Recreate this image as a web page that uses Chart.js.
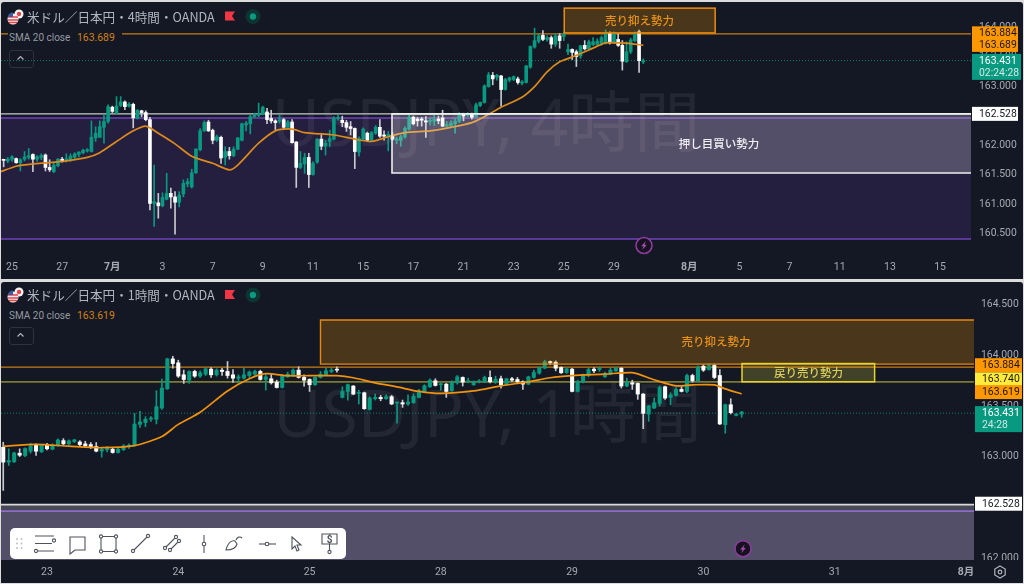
<!DOCTYPE html>
<html lang="ja">
<head>
<meta charset="UTF-8">
<title>USDJPY 4時間 / 1時間</title>
<script src="https://cdn.jsdelivr.net/npm/chart.js"></script>
<style>
  html, body { margin: 0; padding: 0; }
  body { width: 1024px; height: 584px; background: #dcdcdc; position: relative; overflow: hidden;
         font-family: "Noto Sans CJK JP", "Noto Sans", sans-serif; }
  .panel { position: absolute; left: 1px; width: 1022px; background: #131824; border-radius: 3px; }
  #panel4h { top: 2px; height: 277px; }
  #panel1h { top: 282px; height: 301px; }
  canvas { display: block; }
  .title { position: absolute; left: 27px; font-size: 12.6px; color: #b2b5be; white-space: nowrap; line-height: 16px; }
  .legend { position: absolute; left: 8px; height: 14px; padding: 0 3px 0 1px; background: #131824; color: #9598a1;
            font: 10px/14px Roboto, sans-serif; white-space: nowrap; width: 110px; }
  .legend b { font-weight: 400; position: absolute; left: 69px; color: #d08015; font-size: 10.4px; }
  .collapse { position: absolute; left: 9px; width: 23px; height: 16px; border: 1px solid #2e323e; border-radius: 3px;
              color: #b2b5be; }
  svg.abs { position: absolute; left: 0; top: 0; pointer-events: none; }
  #toolbar { position: absolute; left: 10px; top: 528px; width: 336px; height: 31px; background: #fff; border-radius: 5px; }
</style>
</head>
<body>
<div class="panel" id="panel4h"><canvas id="chart4h" width="1022" height="277"></canvas></div>
<div class="panel" id="panel1h"><canvas id="chart1h" width="1022" height="301"></canvas></div>

<div class="title" style="top:9px">米ドル／日本円・4時間・OANDA</div>
<div class="legend" style="top:31px">SMA 20 close<b>163.689</b></div>
<div class="collapse" style="top:50px"></div>
<div class="title" style="top:287px">米ドル／日本円・1時間・OANDA</div>
<div class="legend" style="top:309px">SMA 20 close<b>163.619</b></div>
<div class="collapse" style="top:327px"></div>
<div id="toolbar"></div>

<svg class="abs" width="1024" height="584" viewBox="0 0 1024 584">
  <defs>
    <g id="flag">
      <circle cx="6" cy="-4" r="4.5" fill="#f5f5f5"/><circle cx="6" cy="-4" r="2.2" fill="#e8434a"/>
      <circle cx="0" cy="1" r="5.5" fill="#f0f0f0"/>
      <path d="M-5 -1h10M-5 2h10M-4 4.5h8" stroke="#e8434a" stroke-width="1.3"/>
      <path d="M-5 -1a5 5 0 0 1 5 -4.5v4.5z" fill="#3b5aa8"/>
    </g>
    <g id="mark">
      <path d="M-5 -5h10l-3 4.5l3 4.5h-10z" fill="#f23645"/>
      <circle cx="23" cy="0" r="7.5" fill="#0d3431"/><circle cx="23" cy="0" r="3.2" fill="#089981"/>
    </g>
    <g id="bolt">
      <circle r="8" fill="#16121f" stroke="#8e3b9e" stroke-width="1.6"/>
      <path d="M1.8 -4.5L-2.8 0.8h2.4L-1.8 4.5L2.8 -0.8h-2.4z" fill="#a64bb8"/>
    </g>
    <path id="chev" d="M-3 1.5L0 -1.5L3 1.5" fill="none" stroke="#b2b5be" stroke-width="1.2"/>
  </defs>
  <use href="#flag" x="13" y="18"/><use href="#mark" x="230" y="16.5"/>
  <use href="#flag" x="13" y="296"/><use href="#mark" x="230" y="295"/>
  <use href="#chev" x="20.5" y="58"/><use href="#chev" x="20.5" y="335"/>
  <use href="#bolt" x="644" y="245.5"/><use href="#bolt" x="743" y="548.7"/>
  <!-- settings -->
  <path d="M1000 566l5.2 3v6l-5.2 3l-5.2 -3v-6z" fill="none" stroke="#b2b5be" stroke-width="1.2"/>
  <circle cx="1000" cy="572" r="1.8" fill="none" stroke="#b2b5be" stroke-width="1.2"/>
  <!-- drawing toolbar -->
  <g fill="#bbb"><circle cx="17" cy="539" r=".9"/><circle cx="21.5" cy="539" r=".9"/><circle cx="17" cy="543.5" r=".9"/><circle cx="21.5" cy="543.5" r=".9"/><circle cx="17" cy="548" r=".9"/><circle cx="21.5" cy="548" r=".9"/></g>
  <g fill="#fff" stroke="#50535e" stroke-width="1.1">
    <path d="M35 536h19M35 543.5h17M38 551h16" fill="none"/><circle cx="54" cy="540.5" r="1.6"/><circle cx="36" cy="551" r="1.6"/>
    <path d="M70 537h15v13h-10l-5 4z" fill="none"/>
    <path d="M102 536.5h13M102 551.5h13M101 538v12M116 538v12" fill="none"/><circle cx="101" cy="536.5" r="1.6"/><circle cx="116" cy="536.5" r="1.6"/><circle cx="101" cy="551.5" r="1.6"/><circle cx="116" cy="551.5" r="1.6"/>
    <path d="M134 550L147 537" fill="none"/><circle cx="133" cy="551" r="1.6"/><circle cx="148" cy="536" r="1.6"/>
    <path d="M165 548l11 -11M169 551l11 -11" fill="none"/><circle cx="165" cy="548" r="1.6"/><circle cx="176" cy="537" r="1.6"/><circle cx="170" cy="550" r="1.6"/><circle cx="179" cy="541" r="1.6"/>
    <path d="M204 535v18" fill="none"/><circle cx="204" cy="544" r="1.8"/>
    <path d="M226 550c2 -8 6 -10 9 -9l2 3c-1 4 -5 6 -11 6zM236 540c1 -3 4 -4 6 -2" fill="none"/>
    <path d="M259 544h17" fill="none"/><circle cx="267" cy="544" r="1.8"/>
    <path d="M292 537l9 8h-4l2 5l-2 1l-2 -5l-3 3z" fill="none"/>
    <path d="M322 534h15v10h-15zM329.5 544v6" fill="none"/><circle cx="329.5" cy="552" r="1.6"/>
  </g>
  <text x="329.5" y="543" font-size="10" font-family="Roboto" font-weight="700" text-anchor="middle" fill="#50535e">$</text>
</svg>

<script>
// 4 hour candles, left to right
const opens4h = [
  161.75,161.73,161.76,161.77,161.70,161.76,161.79,161.84,161.76,161.79,
  161.83,161.62,161.55,161.65,161.76,161.75,161.75,161.79,161.84,161.87,
  161.90,161.89,162.12,162.13,162.30,162.40,162.64,162.54,162.67,162.73,
  162.66,162.69,162.45,162.58,162.55,162.43,161.01,161.02,160.97,161.08,
  161.18,161.12,161.03,161.17,161.34,161.29,161.53,161.92,162.24,162.39,
  162.25,162.08,162.13,161.79,161.89,161.82,161.93,162.08,162.34,162.36,
  162.48,162.50,162.53,162.56,162.45,162.41,162.40,162.43,162.30,162.39,
  162.05,161.62,161.68,161.79,161.50,161.71,162.10,161.98,162.06,162.10,
  162.45,162.42,162.38,162.31,162.28,161.88,162.10,162.20,162.08,162.20,
  162.30,162.17,162.14,162.15,162.08,162.08,162.14,162.27,162.47,162.44,
  162.44,162.41,162.40,162.40,162.44,162.46,162.32,162.33,162.36,162.40,
  162.53,162.50,162.53,162.48,162.67,162.72,162.99,163.18,163.15,163.17,
  162.94,163.10,163.11,163.12,163.05,163.06,163.32,163.66,163.76,163.86,
  163.79,163.82,163.71,163.85,163.84,163.58,163.62,163.58,163.51,163.69,
  163.63,163.70,163.71,163.72,163.73,163.89,163.73,163.79,163.69,163.41,
  163.58,163.77,163.92,163.41
];
const closes4h = [
  161.74,161.76,161.80,161.70,161.75,161.80,161.82,161.76,161.80,161.82,
  161.62,161.58,161.66,161.76,161.73,161.76,161.81,161.85,161.88,161.91,
  161.92,162.13,162.20,162.31,162.40,162.65,162.57,162.66,162.73,162.65,
  162.69,162.46,162.59,162.55,162.43,161.01,161.04,160.97,161.11,161.18,
  161.12,161.03,161.15,161.35,161.38,161.53,161.93,162.24,162.38,162.24,
  162.08,162.14,161.78,161.89,161.82,161.93,162.12,162.36,162.37,162.48,
  162.51,162.53,162.64,162.43,162.41,162.38,162.43,162.30,162.39,162.04,
  161.62,161.69,161.79,161.50,161.69,162.10,161.98,162.03,162.11,162.45,
  162.47,162.38,162.30,162.28,161.89,162.11,162.27,162.08,162.21,162.30,
  162.15,162.15,162.18,162.10,162.10,162.14,162.28,162.47,162.36,162.41,
  162.42,162.39,162.42,162.44,162.41,162.32,162.34,162.37,162.40,162.53,
  162.49,162.53,162.47,162.68,162.72,163.00,163.19,163.12,163.18,162.94,
  163.11,163.14,163.16,163.06,163.07,163.34,163.67,163.77,163.85,163.79,
  163.82,163.71,163.85,163.77,163.89,163.62,163.57,163.50,163.68,163.63,
  163.75,163.75,163.76,163.82,163.89,163.73,163.88,163.69,163.42,163.58,
  163.78,163.89,163.43,163.43
];
const highs4h = [
  161.76,161.79,161.82,161.78,161.77,161.89,161.94,161.85,161.82,161.85,
  161.85,161.75,161.69,161.77,161.79,161.85,161.85,161.87,161.89,161.93,
  161.94,162.41,162.31,162.41,162.51,162.68,162.66,162.82,162.82,162.75,
  162.72,162.71,162.60,162.59,162.58,162.47,161.66,161.18,161.19,161.52,
  161.27,161.21,161.21,161.41,161.43,161.59,161.94,162.28,162.41,162.42,
  162.27,162.17,162.15,161.97,161.96,161.97,162.13,162.37,162.40,162.51,
  162.54,162.71,162.66,162.62,162.59,162.43,162.51,162.45,162.42,162.43,
  162.06,161.89,161.86,161.86,161.72,162.11,162.20,162.08,162.25,162.48,
  162.51,162.49,162.42,162.40,162.29,162.14,162.29,162.22,162.23,162.33,
  162.43,162.24,162.23,162.21,162.13,162.17,162.31,162.53,162.49,162.47,
  162.47,162.48,162.45,162.51,162.49,162.59,162.40,162.41,162.45,162.55,
  162.54,162.55,162.54,162.71,162.73,163.02,163.23,163.23,163.20,163.18,
  163.13,163.15,163.17,163.15,163.09,163.35,163.68,163.98,163.88,163.94,
  163.85,163.85,163.89,163.89,163.92,163.71,163.63,163.61,163.69,163.77,
  163.78,163.82,163.80,163.85,163.95,163.92,163.92,163.89,163.77,163.75,
  163.81,163.92,163.95,163.46
];
const lows4h = [
  161.63,161.70,161.72,161.69,161.56,161.73,161.76,161.55,161.72,161.75,
  161.56,161.55,161.53,161.63,161.71,161.71,161.72,161.77,161.80,161.85,
  161.88,161.88,162.06,162.13,162.03,162.37,162.55,162.53,162.65,162.60,
  162.64,162.29,162.44,162.48,162.41,160.90,160.62,160.76,160.95,161.07,
  160.93,160.49,160.95,161.12,161.29,161.27,161.52,161.90,162.23,162.23,
  162.02,162.06,161.69,161.66,161.76,161.80,161.92,162.07,162.24,162.19,
  162.47,162.48,162.51,162.36,162.37,162.25,162.37,162.27,162.28,162.03,
  161.28,161.60,161.52,161.28,161.49,161.69,161.92,161.83,161.97,162.08,
  162.42,162.31,162.23,162.17,161.60,161.81,162.08,162.06,162.06,162.18,
  162.13,162.08,161.90,162.08,162.02,161.98,162.11,162.25,162.34,162.32,
  162.32,162.13,162.34,162.33,162.36,162.31,162.30,162.30,162.20,162.38,
  162.41,162.48,162.44,162.47,162.65,162.71,162.98,163.02,163.10,162.66,
  162.93,163.07,163.09,163.03,163.02,163.05,163.30,163.64,163.73,163.77,
  163.76,163.64,163.67,163.64,163.77,163.53,163.45,163.33,163.47,163.61,
  163.61,163.69,163.69,163.69,163.71,163.71,163.72,163.67,163.27,163.40,
  163.55,163.75,163.23,163.38
];
const smaBars4h = [-3,1,5,9,13,18,21,25,29,32,35,39,43,48,52,54,59,63,67,70,77,82,86,90,94,100,105,110,113,117,122,125,128,131,134,138,142,145,148,151];
const smaValues4h = [161.54,161.64,161.68,161.70,161.73,161.79,161.87,162.06,162.24,162.32,162.20,162.02,161.81,161.69,161.58,161.66,162.03,162.24,162.27,162.21,162.17,162.10,162.06,162.14,162.21,162.24,162.30,162.38,162.48,162.64,162.81,162.99,163.24,163.41,163.49,163.61,163.73,163.73,163.72,163.69];
const timeTicks4h = [0,12,24,36,48,60,72,84,96,108,120,132,144,162,174,186,198,210,222];
const timeLabels4h = ['25','27','7月','3','7','9','11','15','17','21','23','25','29','8月','5','7','11','13','15'];
const priceTicks4h = [164,163.5,163,162.5,162,161.5,161,160.5];

// 1 hour candles, left to right
const opens1h = [
  163.095,162.948,162.951,163.036,163.013,163.056,163.115,163.049,163.121,163.075,
  163.111,163.160,163.128,163.151,163.147,163.128,163.121,163.102,163.056,163.069,
  163.075,163.043,163.072,163.102,163.111,163.321,163.337,163.373,163.370,163.481,
  163.671,163.966,163.927,163.809,163.756,163.842,163.796,163.815,163.865,163.809,
  163.855,163.842,163.809,163.776,163.776,163.802,163.815,163.842,163.763,163.770,
  163.737,163.684,163.789,163.809,163.855,163.783,163.763,163.711,163.783,163.809,
  163.842,163.861,163.586,163.645,163.698,163.626,163.632,163.468,163.573,163.586,
  163.573,163.593,163.531,163.534,163.521,163.534,163.586,163.645,163.691,163.750,
  163.711,163.717,163.652,163.730,163.783,163.740,163.711,163.740,163.740,163.783,
  163.740,163.770,163.711,163.770,163.763,163.740,163.717,163.783,163.825,163.874,
  163.940,163.933,163.881,163.832,163.865,163.645,163.737,163.802,163.865,163.861,
  163.789,163.815,163.848,163.874,163.698,163.730,163.724,163.619,163.422,163.481,
  163.527,163.691,163.586,163.606,163.665,163.645,163.802,163.750,163.894,163.861,
  163.901,163.802,163.318,163.514,163.409,163.422
];
const closes1h = [
  162.948,162.964,163.039,163.016,163.082,163.108,163.056,163.115,163.079,163.115,
  163.167,163.128,163.157,163.167,163.121,163.108,163.095,163.056,163.075,163.082,
  163.043,163.075,163.108,163.115,163.324,163.344,163.370,163.380,163.495,163.678,
  163.966,163.920,163.796,163.763,163.842,163.796,163.829,163.868,163.809,163.855,
  163.842,163.802,163.776,163.789,163.809,163.835,163.842,163.763,163.789,163.730,
  163.684,163.796,163.815,163.855,163.783,163.756,163.711,163.783,163.815,163.848,
  163.855,163.855,163.645,163.711,163.619,163.632,163.475,163.580,163.586,163.573,
  163.593,163.521,163.537,163.521,163.540,163.596,163.652,163.701,163.756,163.704,
  163.717,163.645,163.734,163.789,163.737,163.750,163.737,163.750,163.783,163.740,
  163.766,163.711,163.770,163.756,163.740,163.717,163.789,163.832,163.881,163.940,
  163.927,163.874,163.829,163.868,163.645,163.743,163.809,163.861,163.848,163.874,
  163.822,163.855,163.874,163.698,163.734,163.717,163.619,163.429,163.501,163.534,
  163.684,163.580,163.612,163.665,163.645,163.802,163.750,163.888,163.855,163.901,
  163.783,163.324,163.514,163.436,163.422,163.442
];
const highs1h = [
  163.144,163.079,163.046,163.079,163.088,163.134,163.128,163.121,163.134,163.128,
  163.177,163.180,163.167,163.174,163.160,163.154,163.141,163.141,163.095,163.102,
  163.088,163.095,163.121,163.128,163.429,163.449,163.396,163.396,163.652,163.766,
  163.973,163.992,163.953,163.855,163.848,163.855,163.848,163.874,163.881,163.868,
  163.874,163.940,163.861,163.809,163.874,163.848,163.855,163.855,163.809,163.822,
  163.756,163.809,163.835,163.868,163.888,163.809,163.770,163.789,163.842,163.874,
  163.874,163.888,163.691,163.717,163.704,163.658,163.639,163.593,163.619,163.606,
  163.612,163.606,163.540,163.560,163.612,163.619,163.665,163.711,163.770,163.770,
  163.730,163.724,163.750,163.802,163.789,163.776,163.750,163.763,163.796,163.848,
  163.796,163.796,163.776,163.783,163.783,163.750,163.796,163.855,163.888,163.953,
  163.946,163.946,163.888,163.881,163.874,163.756,163.815,163.874,163.881,163.888,
  163.835,163.874,163.888,163.881,163.776,163.756,163.730,163.625,163.508,163.580,
  163.698,163.698,163.632,163.684,163.691,163.815,163.815,163.897,163.907,163.914,
  163.914,163.861,163.521,163.573,163.429,163.449
];
const lows1h = [
  162.669,162.915,162.944,163.003,163.003,163.036,163.013,163.043,163.069,163.069,
  163.102,163.115,163.121,163.141,163.108,163.095,163.082,163.049,162.997,163.049,
  163.036,163.036,163.062,163.082,163.105,163.291,163.298,163.350,163.324,163.468,
  163.665,163.874,163.783,163.724,163.724,163.783,163.783,163.802,163.783,163.796,
  163.802,163.776,163.734,163.724,163.766,163.783,163.802,163.756,163.658,163.717,
  163.678,163.678,163.783,163.796,163.776,163.698,163.645,163.704,163.776,163.802,
  163.829,163.835,163.580,163.560,163.612,163.521,163.468,163.462,163.560,163.553,
  163.567,163.514,163.331,163.488,163.508,163.527,163.580,163.639,163.684,163.698,
  163.658,163.586,163.645,163.717,163.698,163.730,163.704,163.730,163.730,163.730,
  163.724,163.678,163.704,163.743,163.730,163.665,163.711,163.776,163.815,163.868,
  163.907,163.848,163.822,163.822,163.639,163.639,163.730,163.789,163.829,163.842,
  163.783,163.809,163.842,163.678,163.691,163.665,163.567,163.278,163.350,163.475,
  163.501,163.567,163.514,163.599,163.639,163.632,163.737,163.743,163.842,163.855,
  163.770,163.318,163.233,163.422,163.403,163.390
];
const smaBars1h = [-8,-2,4,10,16,21,24,28,33,37,40,44,48,53,56,60,64,68,72,78,83,88,92,96,102,107,111,115,118,122,124,127];
const smaValues1h = [163.105,163.124,163.105,163.09,163.11,163.20,163.32,163.44,163.65,163.77,163.82,163.80,163.80,163.80,163.78,163.73,163.69,163.645,163.625,163.65,163.70,163.74,163.78,163.80,163.815,163.83,163.76,163.70,163.71,163.71,163.67,163.62];
const timeTicks1h = [0,24,48,72,96,120,144,168];
const timeLabels1h = ['23','24','25','28','29','30','31','8月'];
const priceTicks1h = [164.5,164,163.5,163,162.5,162];

// levels and zones, in price (and bar number for box ends)
const resistance = 163.884, support = 162.528, lastPrice = 163.431, yellowLevel = 163.74;
const sma4hNow = 163.689, sma1hNow = 163.619;
const purpleZone4h = [162.458, 160.407];
const sellBox4h = [132.1, 168.2, 164.32, 163.9];
const buyBox4h = [90.9, 161.525];
const purpleTop1h = 162.465;
const sellBox1h = [50, 164.35, 163.914];
const pullBox1h = [127.06, 151.3, 163.92, 163.74];

const GREEN = '#089981', ORANGE = '#ff9800', CJK = '"Noto Sans CJK JP"';

function boxPath(ctx, x0, y0, x1, y1, fill, stroke, lw) {
  ctx.fillStyle = fill;
  ctx.fillRect(x0, y0, x1 - x0, y1 - y0);
  if (stroke) {
    ctx.strokeStyle = stroke;
    ctx.lineWidth = lw;
    ctx.strokeRect(x0, y0, x1 - x0, y1 - y0);
  }
}

function hline(ctx, area, y, color, lw, dash) {
  ctx.save();
  ctx.strokeStyle = color;
  ctx.lineWidth = lw;
  ctx.setLineDash(dash || []);
  ctx.beginPath();
  ctx.moveTo(area.left, y);
  ctx.lineTo(area.right, y);
  ctx.stroke();
  ctx.restore();
}

function label(ctx, text, x, y, color, font) {
  ctx.fillStyle = color;
  ctx.font = font;
  ctx.textAlign = 'center';
  ctx.textBaseline = 'middle';
  ctx.fillText(text, x, y);
}

function priceTag(chart, tag) {
  const ctx = chart.ctx, left = chart.chartArea.right + 1;
  const y = chart.scales.y.getPixelForValue(tag.value) + tag.dy;
  const h = tag.sub ? 26 : 14;
  const top = y - 7;
  ctx.fillStyle = tag.bg;
  ctx.fillRect(left, top, tag.w, h);
  ctx.fillStyle = tag.fg;
  ctx.font = '10.4px Roboto';
  ctx.textAlign = 'left';
  ctx.textBaseline = 'middle';
  ctx.fillText(tag.value.toFixed(3), left + tag.pad, y + .5);
  if (tag.sub) {
    ctx.globalAlpha = .8;
    ctx.fillText(tag.sub, left + tag.pad, y + 12.5);
    ctx.globalAlpha = 1;
  }
}

function makeChart(id, cfg) {
  const candleColor = cfg.opens.map((o, i) => cfg.closes[i] >= o ? GREEN : '#ffffff');
  const xOf = i => cfg.firstBar + i;
  new Chart(document.getElementById(id), {
    type: 'bar',
    data: {
      datasets: [
        {
          type: 'line', order: 0,
          data: cfg.smaBars.map((b, i) => ({x: b, y: cfg.smaValues[i]})),
          borderColor: cfg.smaColor, borderWidth: 1.7, pointRadius: 0, tension: .25
        },
        {
          order: 1, grouped: false, barThickness: cfg.bodyWidth, minBarLength: 1,
          data: cfg.opens.map((o, i) => ({x: xOf(i), y: [o, cfg.closes[i]]})),
          backgroundColor: candleColor, borderWidth: 0, borderSkipped: false
        },
        {
          order: 2, grouped: false, barThickness: 1,
          data: cfg.lows.map((l, i) => ({x: xOf(i), y: [l, cfg.highs[i]]})),
          backgroundColor: candleColor.map(c => c === GREEN ? GREEN : '#c8c9ce'), borderWidth: 0, borderSkipped: false
        }
      ]
    },
    options: {
      responsive: false,
      animation: false,
      events: [],
      layout: {padding: 0},
      plugins: {legend: {display: false}, tooltip: {enabled: false}},
      scales: {
        x: {
          type: 'linear', offset: false,
          min: cfg.xMin, max: cfg.xMax,
          grid: {display: false, offset: false, drawTicks: false},
          border: {display: false},
          afterBuildTicks: s => { s.ticks = cfg.timeTicks.map(v => ({value: v})); },
          afterFit: s => { s.height = cfg.axisH; s.paddingLeft = 0; s.paddingRight = 0; },
          ticks: {
            z: 1, autoSkip: false, maxRotation: 0, padding: cfg.timePad, color: '#a6a9b2',
            font: c => {
              const txt = c.tick ? cfg.timeLabels[cfg.timeTicks.indexOf(c.tick.value)] : '';
              return {family: 'Roboto, ' + CJK, size: 10.5, weight: txt && txt.includes('月') ? '700' : '400'};
            },
            callback: v => cfg.timeLabels[cfg.timeTicks.indexOf(v)]
          }
        },
        y: {
          position: 'right',
          min: cfg.yMin, max: cfg.yMax,
          grid: {display: false, drawTicks: false},
          border: {display: false},
          afterBuildTicks: s => { s.ticks = cfg.priceTicks.map(v => ({value: v})); },
          afterFit: s => { s.width = cfg.axisW; s.paddingTop = 0; s.paddingBottom = 0; },
          ticks: {
            padding: cfg.pricePad, color: '#a6a9b2', autoSkip: false,
            font: {family: 'Roboto', size: 10.4},
            callback: v => v.toFixed(3)
          }
        }
      }
    },
    plugins: [{
      id: 'zones',
      beforeDatasetsDraw(chart) {
        const ctx = chart.ctx, area = chart.chartArea;
        ctx.save();
        cfg.under(ctx, area, chart.scales.x, chart.scales.y);
        label(ctx, cfg.watermark, (area.left + area.right) / 2, cfg.markY, 'rgba(178,181,190,.10)', '66px "Noto Sans", ' + CJK);
        ctx.restore();
      },
      afterDatasetsDraw(chart) {
        const ctx = chart.ctx, area = chart.chartArea;
        ctx.save();
        cfg.over(ctx, area, chart.scales.x, chart.scales.y);
        // strip below the plot, the time labels go on top of it
        ctx.fillStyle = '#131824';
        ctx.fillRect(0, area.bottom, chart.width, chart.height - area.bottom);
        ctx.restore();
      },
      afterDraw(chart) {
        cfg.tags.forEach(t => priceTag(chart, t));
      }
    }]
  });
}

makeChart('chart4h', {
  opens: opens4h, closes: closes4h, highs: highs4h, lows: lows4h, firstBar: -2,
  smaBars: smaBars4h, smaValues: smaValues4h, smaColor: '#dd8a1c', bodyWidth: 3,
  timeTicks: timeTicks4h, timeLabels: timeLabels4h, priceTicks: priceTicks4h,
  xMin: -2.63, xMax: 229.4, yMin: 160.068, yMax: 164.424,
  axisH: 20, axisW: 52, timePad: 2, pricePad: 8,
  watermark: 'USDJPY, 4時間', markY: 125,
  under(ctx, area, x, y) {
    const t = y.getPixelForValue(purpleZone4h[0]), b = y.getPixelForValue(purpleZone4h[1]);
    ctx.fillStyle = '#241e3f';
    ctx.fillRect(area.left, t, area.right - area.left, b - t);
    hline(ctx, area, t, '#6e42b8', 1.6);
    hline(ctx, area, b, '#6e42b8', 1.6);
    hline(ctx, area, y.getPixelForValue(support), '#c8c9cc', 1.4);
    hline(ctx, area, y.getPixelForValue(resistance), '#c87c12', 1.2);
    hline(ctx, area, y.getPixelForValue(lastPrice), '#0b7e6d', 1, [1, 2]);
  },
  over(ctx, area, x, y) {
    boxPath(ctx, x.getPixelForValue(sellBox4h[0]), y.getPixelForValue(sellBox4h[2]),
      x.getPixelForValue(sellBox4h[1]), y.getPixelForValue(sellBox4h[3]), 'rgba(255,152,0,.235)', '#f08c0a', 1.5);
    label(ctx, '売り抑え勢力', x.getPixelForValue(150.1), y.getPixelForValue(164.11), '#e8921a', '500 11.5px ' + CJK);
    const bx = x.getPixelForValue(buyBox4h[0]), bt = y.getPixelForValue(support), bb = y.getPixelForValue(buyBox4h[1]);
    boxPath(ctx, bx, bt, area.right, bb, 'rgba(255,255,255,.22)');
    ctx.strokeStyle = '#eeeeee';
    ctx.lineWidth = 1.6;
    ctx.beginPath();
    ctx.moveTo(area.right, bt); ctx.lineTo(bx, bt); ctx.lineTo(bx, bb); ctx.lineTo(area.right, bb);
    ctx.stroke();
    label(ctx, '押し目買い勢力', x.getPixelForValue(169.1), y.getPixelForValue(162.02), '#f0eff4', '500 11.5px ' + CJK);
  },
  tags: [
    {value: resistance, bg: ORANGE, fg: '#1a1408', dy: -0.5, w: 46, pad: 7},
    {value: sma4hNow, bg: ORANGE, fg: '#1a1408', dy: -0.5, w: 46, pad: 7},
    {value: lastPrice, bg: GREEN, fg: '#ffffff', dy: 0.3, w: 49, pad: 7, sub: '02:24:28'},
    {value: support, bg: '#ffffff', fg: '#131722', dy: 0, w: 46, pad: 7}
  ]
});

makeChart('chart1h', {
  opens: opens1h, closes: closes1h, highs: highs1h, lows: lows1h, firstBar: -8,
  smaBars: smaBars1h, smaValues: smaValues1h, smaColor: '#f0920f', bodyWidth: 3.4,
  timeTicks: timeTicks1h, timeLabels: timeLabels1h, priceTicks: priceTicks1h,
  xMin: -8.41, xMax: 169.47, yMin: 161.983, yMax: 164.724,
  axisH: 23, axisW: 49, timePad: 6, pricePad: 7,
  watermark: 'USDJPY, 1時間', markY: 136,
  under(ctx, area, x, y) {
    const t = y.getPixelForValue(purpleTop1h);
    ctx.fillStyle = '#241e3f';
    ctx.fillRect(area.left, t, area.right - area.left, area.bottom - t);
    hline(ctx, area, t, '#6e42b8', 1.6);
    hline(ctx, area, y.getPixelForValue(resistance), '#c87c12', 1.2);
    hline(ctx, area, y.getPixelForValue(yellowLevel), '#7c7a30', 1.8);
    hline(ctx, area, y.getPixelForValue(lastPrice), '#0b7e6d', 1, [1, 2]);
  },
  over(ctx, area, x, y) {
    const st = y.getPixelForValue(support);
    boxPath(ctx, area.left, st, area.right, area.bottom, 'rgba(255,255,255,.22)');
    hline(ctx, area, st, '#dadada', 1.8);
    const l = x.getPixelForValue(sellBox1h[0]), t = y.getPixelForValue(sellBox1h[1]), b = y.getPixelForValue(sellBox1h[2]);
    boxPath(ctx, l, t, area.right, b, 'rgba(255,152,0,.235)');
    ctx.strokeStyle = '#e8890c';
    ctx.lineWidth = 1.4;
    ctx.beginPath();
    ctx.moveTo(area.right, t); ctx.lineTo(l, t); ctx.lineTo(l, b); ctx.lineTo(area.right, b);
    ctx.stroke();
    label(ctx, '売り抑え勢力', x.getPixelForValue(122.3), y.getPixelForValue(164.14), '#e8921a', '500 11.5px ' + CJK);
    boxPath(ctx, x.getPixelForValue(pullBox1h[0]), y.getPixelForValue(pullBox1h[2]),
      x.getPixelForValue(pullBox1h[1]), y.getPixelForValue(pullBox1h[3]), 'rgba(255,235,59,.2)', '#e8d52a', 1.5);
    label(ctx, '戻り売り勢力', x.getPixelForValue(139.2), y.getPixelForValue(163.835), '#dccf5c', '500 11.5px ' + CJK);
  },
  tags: [
    {value: resistance, bg: ORANGE, fg: '#1a1408', dy: -2, w: 47, pad: 7},
    {value: yellowLevel, bg: '#ffeb3b', fg: '#1a1a08', dy: -2.5, w: 47, pad: 7},
    {value: sma1hNow, bg: ORANGE, fg: '#1a1408', dy: -2, w: 47, pad: 7},
    {value: lastPrice, bg: GREEN, fg: '#ffffff', dy: 0, w: 47, pad: 7, sub: '24:28'},
    {value: support, bg: '#ffffff', fg: '#131722', dy: -1, w: 47, pad: 7}
  ]
});
</script>
</body>
</html>
